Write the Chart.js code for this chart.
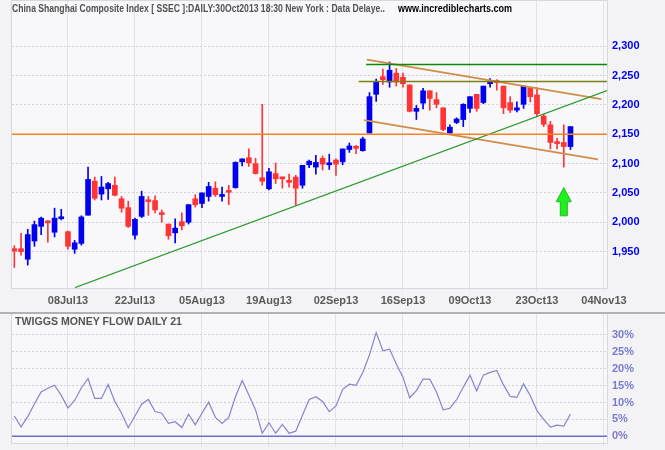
<!DOCTYPE html>
<html>
<head>
<meta charset="utf-8">
<script src="https://cdn.jsdelivr.net/npm/chart.js@4.4.0/dist/chart.umd.min.js"></script>
<style>
  html, body { margin: 0; padding: 0; background: #f3f3f5; }
  #wrap { position: relative; width: 665px; height: 450px; overflow: hidden; font-family: "Liberation Sans", Arial, sans-serif; }
  #topChart { position: absolute; left: 0; top: 0; }
  #flowChart { position: absolute; left: 0; top: 314px; }
  .sep { position: absolute; left: 0; top: 312px; width: 665px; height: 2px; background: #b2b2b2; }
  .txt { position: absolute; font-weight: bold; font-size: 11px; line-height: 13px; white-space: nowrap; transform-origin: 0 50%; }
</style>
</head>
<body>
<div id="wrap">
  <canvas id="topChart" width="665" height="312"></canvas>
  <div class="sep"></div>
  <canvas id="flowChart" width="665" height="136"></canvas>
  <div class="txt" id="title" data-fit="373" style="left:12px; top:2px; color:#505050;">China Shanghai Composite Index [ SSEC ]:DAILY:30Oct2013 18:30 New York : Data Delaye..</div>
  <div class="txt" id="site" data-fit="114" style="left:398px; top:2px; color:#000;">www.incrediblecharts.com</div>
  <div class="txt" id="flowTitle" data-fit="167" style="left:15px; top:315px; color:#555;">TWIGGS MONEY FLOW DAILY 21</div>
</div>
<script>
// --- data ---
const dates = [
  '26Jun13','27Jun13','28Jun13',
  '01Jul13','02Jul13','03Jul13','04Jul13','05Jul13','08Jul13','09Jul13','10Jul13','11Jul13','12Jul13',
  '15Jul13','16Jul13','17Jul13','18Jul13','19Jul13','22Jul13','23Jul13','24Jul13','25Jul13','26Jul13',
  '29Jul13','30Jul13','31Jul13',
  '01Aug13','02Aug13','05Aug13','06Aug13','07Aug13','08Aug13','09Aug13','12Aug13','13Aug13','14Aug13',
  '15Aug13','16Aug13','19Aug13','20Aug13','21Aug13','22Aug13','23Aug13','26Aug13','27Aug13','28Aug13',
  '29Aug13','30Aug13',
  '02Sep13','03Sep13','04Sep13','05Sep13','06Sep13','09Sep13','10Sep13','11Sep13','12Sep13','13Sep13',
  '16Sep13','17Sep13','18Sep13','23Sep13','24Sep13','25Sep13','26Sep13','27Sep13','30Sep13',
  '08Oct13','09Oct13','10Oct13','11Oct13','14Oct13','15Oct13','16Oct13','17Oct13','18Oct13','21Oct13',
  '22Oct13','23Oct13','24Oct13','25Oct13','28Oct13','29Oct13','30Oct13'
];
const futureDates = ['31Oct13','01Nov13','02Nov13','03Nov13','04Nov13'];

const opens = [1955,1955,1937,1968,1993,2002,1983,2006,1984,1954,1964,2012,2070,2048,2057,2063,2040,2025,1978,2010,
  2038,2037,2014,1997,1982,2001,2000,2040,2032,2044,2058,2044,2052,2059,2103,2110,2100,2076,2057,2083,
  2076,2070,2077,2063,2098,2094,2109,2098,2106,2103,2124,2127,2122,2152,2218,2248,2239,2254,2247,2234,
  2189,2203,2224,2209,2195,2152,2170,2175,2194,2218,2204,2236,2240,2232,2204,2191,2201,2229,2217,2181,
  2166,2136,2136,2129];
const highs = [1960,1981,1988,2002,2009,2003,2024,2022,1985,1969,2011,2094,2077,2078,2068,2077,2044,2036,2007,2053,
  2044,2045,2021,1997,2006,2016,2030,2047,2050,2068,2069,2060,2063,2103,2108,2125,2109,2201,2092,2101,
  2077,2082,2080,2097,2106,2114,2113,2116,2108,2125,2135,2131,2145,2221,2244,2261,2273,2262,2254,2234,
  2199,2228,2224,2221,2195,2166,2178,2202,2214,2218,2232,2245,2243,2232,2214,2205,2232,2229,2229,2184,
  2172,2143,2166,2163];
const lows = [1923,1944,1927,1959,1979,1966,1975,2004,1954,1947,1961,2012,2038,2038,2039,2045,2017,1991,1971,2008,
  2012,2016,2000,1971,1965,1987,1997,2026,2025,2036,2044,2036,2030,2058,2096,2095,2082,2063,2055,2066,
  2058,2060,2029,2058,2093,2082,2089,2090,2080,2098,2119,2117,2121,2152,2206,2235,2230,2232,2230,2188,
  2175,2193,2191,2195,2156,2151,2168,2163,2187,2189,2202,2230,2225,2185,2187,2188,2194,2205,2180,2163,
  2125,2125,2094,2124];
const closes = [1951,1950,1979,1996,2007,1999,2007,2008,1959,1965,2009,2073,2041,2060,2066,2046,2024,1993,2005,2044,
  2035,2021,2013,1977,1990,1994,2030,2030,2050,2061,2047,2046,2051,2102,2108,2101,2083,2070,2086,2074,
  2074,2068,2058,2097,2104,2102,2099,2100,2099,2125,2130,2126,2142,2214,2240,2243,2259,2239,2236,2189,
  2194,2224,2211,2201,2158,2162,2176,2201,2214,2194,2232,2240,2238,2195,2191,2195,2232,2214,2185,2167,
  2136,2134,2129,2163];

const moneyFlow = [6.0,2.8,5.8,9.6,13.1,14.2,15.1,12.1,8.4,10.6,14.3,17.1,11.2,11.2,15.3,10.3,6.8,2.5,6.0,9.5,
  10.9,7.3,6.8,3.8,4.3,2.6,6.5,3.4,6.8,10.1,5.6,3.8,5.6,11.7,16.5,12.2,7.8,0.9,4.0,0.9,
  3.5,0.9,1.5,6.2,10.9,11.7,10.3,7.3,9.0,13.9,15.4,15.1,18.9,24.1,30.7,25.3,25.8,21.4,17.5,11.4,
  13.5,16.9,16.9,13.1,7.8,8.3,10.8,14.5,18.1,13.4,18.1,18.9,19.5,15.2,11.8,11.5,15.5,12.0,7.6,5.0,
  2.7,3.3,3.0,6.6];

const xTickLabels = ['08Jul13','22Jul13','05Aug13','19Aug13','02Sep13','16Sep13','09Oct13','23Oct13','04Nov13'];
const priceTicks = [1950, 2000, 2050, 2100, 2150, 2200, 2250, 2300];
const flowTicks = [0, 5, 10, 15, 20, 25, 30];

// drawn lines, in (bar index, value)
const supportLine = [{x: -0.35, y: 2150}, {x: 88.45, y: 2150}];
const oliveLine = [{x: 51.4, y: 2240}, {x: 88.45, y: 2240}];
const greenTopLine = [{x: 52.5, y: 2269}, {x: 88.45, y: 2269}];
const upTrend = [{x: 9.06, y: 1888.7}, {x: 88.45, y: 2224.3}];
const channelTop = [{x: 52.6, y: 2277}, {x: 87.6, y: 2210}];
const channelBottom = [{x: 52.2, y: 2174}, {x: 87.1, y: 2107}];
const flowZero = [{x: -0.35, y: 0}, {x: 88.45, y: 0}];
const arrowMark = [82, 2059, 2011]; // index, tip, tail

const allDates = dates.concat(futureDates);
const xMin = -0.35, xMax = 88.45;
const FONT = "'Liberation Sans', Arial, sans-serif";

const fundoArea = {
    id: 'fundoArea',
    beforeDraw(chart) {
        const { ctx, chartArea: { left, top, width, height } } = chart;
        ctx.save();
        ctx.fillStyle = '#f8f8fa';
        ctx.fillRect(left, top, width, height);
        ctx.restore();
    },
    afterDraw(chart) {
        const { ctx, chartArea: { left, top, width, height } } = chart;
        ctx.save();
        ctx.strokeStyle = '#d8d8dc';
        ctx.lineWidth = 1;
        ctx.strokeRect(left - 0.5, top - 0.5, width + 1, height + 1);
        ctx.restore();
    }
};

const seta = {
    id: 'seta',
    afterDatasetsDraw(chart) {
        const { ctx, scales: { x, y } } = chart;
        const cx = x.getPixelForValue(arrowMark[0]);
        const yt = y.getPixelForValue(arrowMark[1]);
        const yb = y.getPixelForValue(arrowMark[2]);
        const yh = yt + (yb - yt) * 0.5;
        ctx.save();
        ctx.beginPath();
        ctx.moveTo(cx, yt);
        ctx.lineTo(cx + 7.5, yh);
        ctx.lineTo(cx + 3.5, yh);
        ctx.lineTo(cx + 3.5, yb);
        ctx.lineTo(cx - 3.5, yb);
        ctx.lineTo(cx - 3.5, yh);
        ctx.lineTo(cx - 7.5, yh);
        ctx.closePath();
        ctx.fillStyle = '#1ef01e';
        ctx.fill();
        ctx.strokeStyle = '#22b822';
        ctx.lineWidth = 1;
        ctx.stroke();
        ctx.restore();
    }
};

// no extra room for labels at the ends of the axes
function noPad(s) {
    s.paddingTop = 0; s.paddingBottom = 0; s.paddingLeft = 0; s.paddingRight = 0;
}

function xScale(showLabels, height) {
    return {
        type: 'linear', min: xMin, max: xMax, offset: false,
        afterBuildTicks: s => { s.ticks = xTickLabels.map(l => ({ value: allDates.indexOf(l) })); },
        afterFit: s => { s.height = height; noPad(s); },
        grid: { color: '#e2e2e8', lineWidth: 1, drawTicks: true, tickLength: 4, tickColor: '#e2e2e8', offset: false },
        border: { display: false },
        ticks: {
            display: showLabels, autoSkip: false, maxRotation: 0, padding: 2,
            callback: v => allDates[v] || '',
            color: '#5a5a5a', font: { family: FONT, size: 11, weight: 'bold' }
        }
    };
}

function lineSet(data, color, width, order) {
    return { type: 'line', data: data, borderColor: color, borderWidth: width, pointRadius: 0, fill: false, tension: 0, order: order };
}

const upColor = '#0000f0', downColor = '#ff3434';
const candleColors = closes.map((c, i) => c >= opens[i] ? upColor : downColor);

new Chart(document.getElementById('topChart'), {
    type: 'bar',
    data: {
        datasets: [
            {
                data: dates.map((d, i) => ({ x: i, y: [lows[i], highs[i]] })),
                backgroundColor: candleColors, barThickness: 1, grouped: false, order: 3
            },
            {
                data: dates.map((d, i) => ({ x: i, y: [opens[i], closes[i]] })),
                backgroundColor: candleColors, barThickness: 5, minBarLength: 2, grouped: false, order: 2
            },
            lineSet(supportLine, '#f5821f', 1.6, 1),
            lineSet(oliveLine, '#7d7d12', 1.5, 1),
            lineSet(greenTopLine, '#0b880b', 1.5, 1),
            lineSet(upTrend, '#2e9a2e', 1.2, 1),
            lineSet(channelTop, '#d08c4a', 1.8, 1),
            lineSet(channelBottom, '#d08c4a', 1.8, 1)
        ]
    },
    options: {
        responsive: false,
        animation: false,
        events: [],
        layout: { padding: { left: 12, top: 1, right: 0, bottom: 0 } },
        plugins: { legend: { display: false }, tooltip: { enabled: false } },
        scales: {
            x: xScale(true, 24),
            y: {
                position: 'right', min: 1888, max: 2377,
                afterBuildTicks: s => { s.ticks = priceTicks.map(v => ({ value: v })); },
                afterFit: s => { s.width = 58; noPad(s); },
                grid: { color: '#d2d2d6', drawTicks: false },
                border: { display: false, dash: [2, 2] },
                ticks: {
                    padding: 5,
                    callback: v => v.toLocaleString('en-US'),
                    color: '#0000ee', font: { family: FONT, size: 11, weight: 'bold' }
                }
            }
        }
    },
    plugins: [fundoArea, seta]
});

new Chart(document.getElementById('flowChart'), {
    type: 'line',
    data: {
        datasets: [
            lineSet(dates.map((d, i) => ({ x: i, y: moneyFlow[i] })), '#8585cc', 1.2, 2),
            lineSet(flowZero, '#6e6ed2', 1.6, 1)
        ]
    },
    options: {
        responsive: false,
        animation: false,
        events: [],
        layout: { padding: { left: 12, top: 0, right: 0, bottom: 0 } },
        plugins: { legend: { display: false }, tooltip: { enabled: false } },
        scales: {
            x: xScale(false, 7),
            y: {
                position: 'right', min: -2, max: 36.2,
                afterBuildTicks: s => { s.ticks = flowTicks.map(v => ({ value: v })); },
                afterFit: s => { s.width = 58; noPad(s); },
                grid: { color: '#d2d2d6', drawTicks: false },
                border: { display: false, dash: [2, 2] },
                ticks: {
                    padding: 5,
                    callback: v => v + '%',
                    color: '#7b7bcc', font: { family: FONT, size: 11, weight: 'bold' }
                }
            }
        }
    },
    plugins: [fundoArea]
});

// --- squeeze header texts to the widths seen in the picture ---
document.querySelectorAll('.txt').forEach(el => {
    const w = el.getBoundingClientRect().width;
    const alvo = parseFloat(el.dataset.fit);
    if (w > 0) el.style.transform = 'scaleX(' + (alvo / w) + ')';
});
</script>
</body>
</html>
